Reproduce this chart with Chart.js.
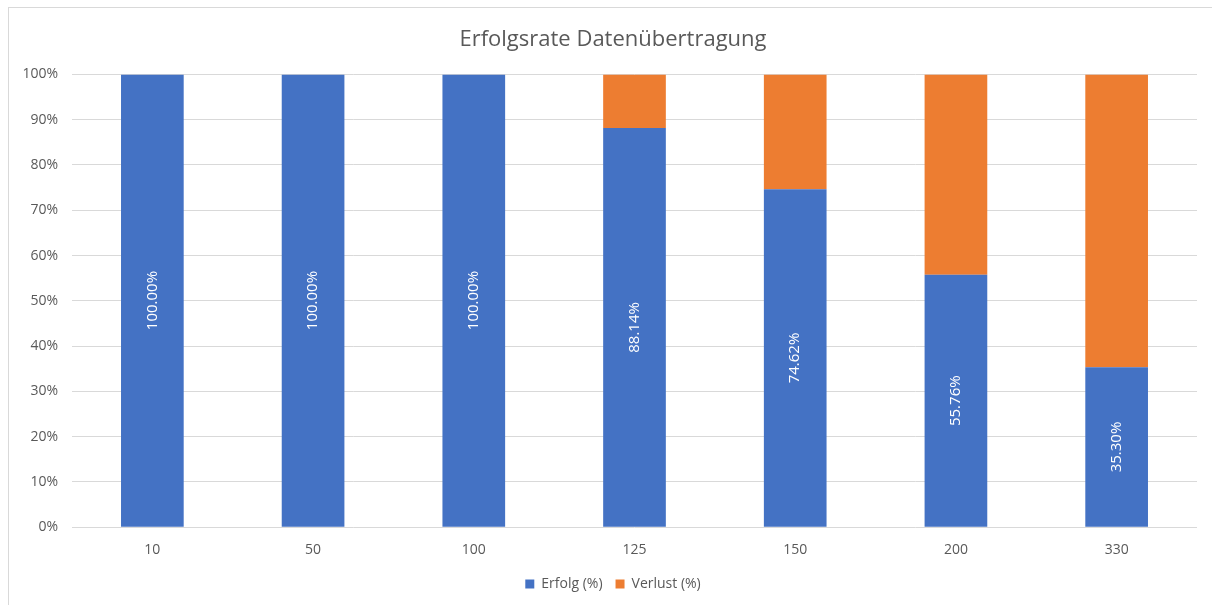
<!DOCTYPE html>
<html lang="de">
<head>
<meta charset="utf-8">
<title>Erfolgsrate Datenübertragung</title>
<script src="https://cdn.jsdelivr.net/npm/chart.js@4.4.1/dist/chart.umd.min.js"></script>
<style>
    html, body { margin: 0; padding: 0; background: #fff; overflow: hidden; }
    .frame {
        position: absolute; left: 8px; top: 7px;
        width: 1300px; height: 700px;
        border: 1px solid #d9d9d9;
    }
    .chart-box { position: absolute; left: 0; top: 0; width: 1212px; height: 605px; }
</style>
</head>
<body>
<div class="frame"></div>
<div class="chart-box"><canvas id="chart"></canvas></div>
<script>
const categories = ['10', '50', '100', '125', '150', '200', '330'];
const erfolg = [100, 100, 100, 88.14, 74.62, 55.76, 35.30];
const verlust = [0, 0, 0, 11.86, 25.38, 44.24, 64.70];
const yTicks = [0, 10, 20, 30, 40, 50, 60, 70, 80, 90, 100];

const textColor = '#595959';
const fontFamily = "'Open Sans', 'Liberation Sans', sans-serif";

// white rotated value labels in the middle of the blue segments
const barLabels = {
    id: 'barLabels',
    afterDatasetsDraw(chart) {
        const meta = chart.getDatasetMeta(0);
        const ctx = chart.ctx;
        ctx.save();
        ctx.fillStyle = '#ffffff';
        ctx.font = `15px ${fontFamily}`;
        ctx.textAlign = 'center';
        ctx.textBaseline = 'middle';
        meta.data.forEach((bar, i) => {
            const mid = (bar.y + bar.base) / 2;
            ctx.save();
            ctx.translate(bar.x, mid);
            ctx.rotate(-Math.PI / 2);
            ctx.fillText(erfolg[i].toFixed(2) + '%', 0, 0);
            ctx.restore();
        });
        ctx.restore();
    },
};

// Excel centres title and legend on the outer frame, not the canvas
const centreOnFrame = {
    id: 'centreOnFrame',
    afterLayout(chart) {
        const shift = 19;
        if (chart.titleBlock) chart.titleBlock.left += shift;
        if (chart.legend) chart.legend.left += shift;
    },
};

new Chart(document.getElementById('chart'), {
    type: 'bar',
    data: {
        labels: categories,
        datasets: [
            {
                label: 'Erfolg (%)',
                data: erfolg,
                backgroundColor: '#4472C4',
                categoryPercentage: 0.39,
                barPercentage: 1,
            },
            {
                label: 'Verlust (%)',
                data: verlust,
                backgroundColor: '#ED7D31',
                categoryPercentage: 0.39,
                barPercentage: 1,
            },
        ],
    },
    options: {
        responsive: true,
        maintainAspectRatio: false,
        animation: false,
        layout: {
            padding: { top: 10, left: 10, right: 15, bottom: 4 },
        },
        plugins: {
            title: {
                display: true,
                text: 'Erfolgsrate Datenübertragung',
                color: textColor,
                font: { family: fontFamily, size: 22, weight: 'normal' },
                padding: { top: 17, bottom: 21 },
            },
            legend: {
                position: 'bottom',
                labels: {
                    color: textColor,
                    font: { family: fontFamily, size: 14 },
                    boxWidth: 9,
                    boxHeight: 9,
                    padding: 13,
                },
            },
            tooltip: { enabled: false },
        },
        scales: {
            x: {
                stacked: true,
                grid: { display: false },
                border: { display: false },
                ticks: {
                    color: textColor,
                    font: { family: fontFamily, size: 14 },
                    padding: 6,
                },
            },
            y: {
                stacked: true,
                min: 0,
                max: 100,
                afterBuildTicks(axis) {
                    axis.ticks = yTicks.map(v => ({ value: v }));
                },
                afterFit(axis) {
                    axis.width = 62;
                },
                grid: { color: '#d9d9d9', drawTicks: false },
                border: { display: false },
                ticks: {
                    color: textColor,
                    font: { family: fontFamily, size: 14 },
                    padding: 14,
                    callback: v => v + '%',
                },
            },
        },
    },
    plugins: [barLabels, centreOnFrame],
});
</script>
</body>
</html>
